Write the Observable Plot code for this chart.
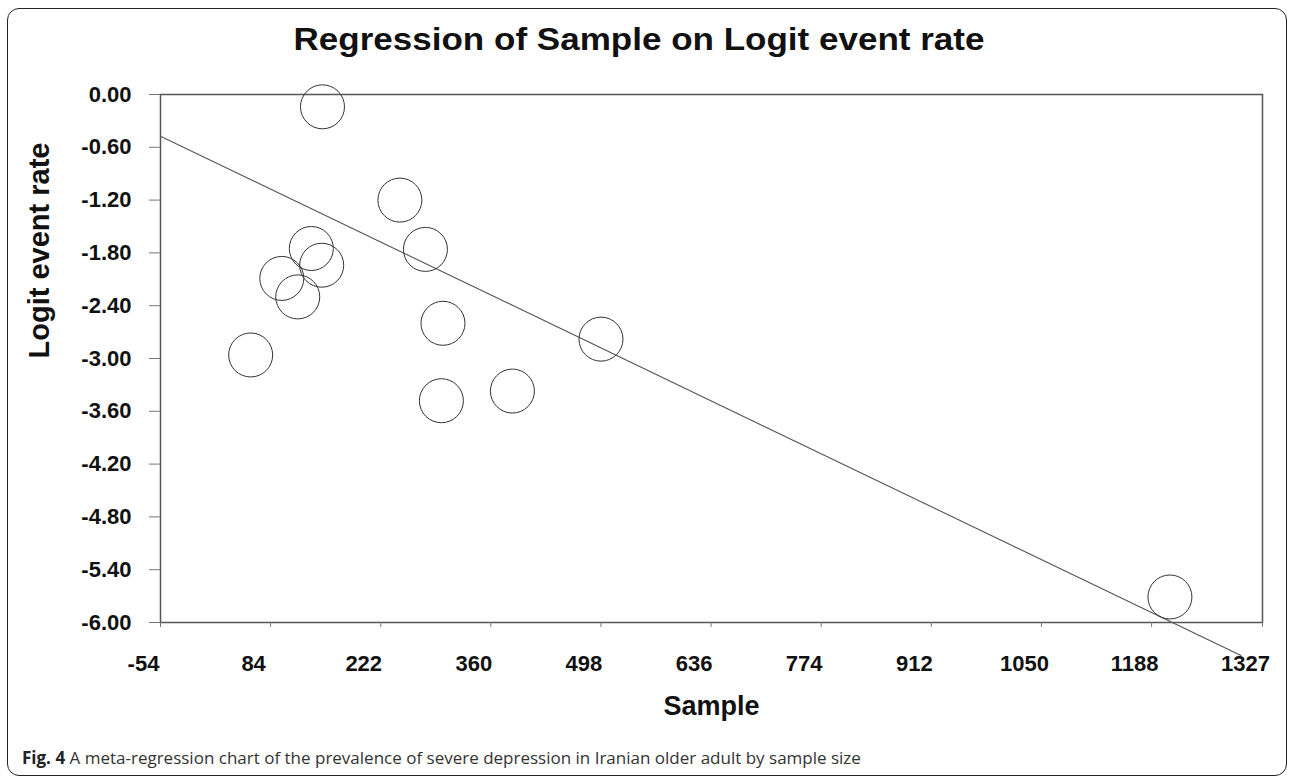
<!DOCTYPE html>
<html>
<head>
<meta charset="utf-8">
<script src="https://cdn.jsdelivr.net/npm/d3@7"></script>
<script src="https://cdn.jsdelivr.net/npm/@observablehq/plot@0.6"></script>
<style>
  html, body { margin: 0; padding: 0; background: #fff; }
  #wrap { position: relative; width: 1292px; height: 780px; overflow: hidden; background: #fff; }
  #frame { position: absolute; left: 7px; top: 8px; width: 1280px; height: 768px; border: 1.5px solid #222; border-radius: 12px; box-sizing: border-box; }
  #title { position: absolute; left: 0; top: 24px; width: 1278px; text-align: center; font: bold 31px/31px "Liberation Sans", Arial, sans-serif; color: #111; transform: scaleX(1.13); transform-origin: 639px 0; }
  #caption { position: absolute; left: 22px; top: 749px; font: 17px/17px "Open Sans", sans-serif; color: #333; white-space: nowrap; }
  #caption b { color: #222; }
  #chart { position: absolute; left: 0; top: 0; }
</style>
</head>
<body>
<div id="wrap">
  <div id="frame"></div>
  <div id="chart"></div>
  <div id="title">Regression of Sample on Logit event rate</div>
  <div id="caption"><b>Fig. 4</b> A meta-regression chart of the prevalence of severe depression in Iranian older adult by sample size</div>
</div>
<script>
// Study points (sample size vs logit event rate)
const sampleSize = [149, 246, 278, 135, 148, 98, 118, 59, 300, 298, 387, 498, 1211];
const logitRate  = [-0.14, -1.20, -1.76, -1.75, -1.94, -2.09, -2.30, -2.96, -2.60, -3.48, -3.37, -2.78, -5.71];

// Regression line end points
const lineX = [-54, 1300];
const lineY = [-0.474, -6.375];

// Axis ticks
const xTicks = [-54, 84, 222, 360, 498, 636, 774, 912, 1050, 1188, 1327];
const yTicks = [0, -0.6, -1.2, -1.8, -2.4, -3.0, -3.6, -4.2, -4.8, -5.4, -6.0];

const points = sampleSize.map((s, i) => ({sample: s, logit: logitRate[i]}));
const regLine = lineX.map((x, i) => ({sample: x, logit: lineY[i]}));

const font = '"Liberation Sans", Arial, sans-serif';

const chart = Plot.plot({
  width: 1292,
  height: 780,
  marginLeft: 160,
  marginRight: 30,
  marginTop: 94,
  marginBottom: 158,
  style: {fontFamily: font, color: "#111", background: "transparent", overflow: "visible"},
  x: {domain: [-54, 1327]},
  y: {domain: [-6, 0]},
  marks: [
    Plot.frame({stroke: "#555", strokeWidth: 1.5}),
    Plot.axisX({
      ticks: xTicks, tickSize: 5, tickFormat: () => "",
      stroke: "#777", label: null
    }),
    Plot.text(xTicks, {
      x: d => d, text: d => String(d), frameAnchor: "bottom", lineAnchor: "top",
      dy: 33, dx: -17, fontSize: 22, fontWeight: "bold", fill: "#111"
    }),
    Plot.axisY({
      ticks: yTicks, tickSize: 11, tickPadding: 18, tickFormat: d => d.toFixed(2),
      stroke: "#777", fontSize: 22, fontWeight: "bold", label: null
    }),
    Plot.line(regLine, {x: "sample", y: "logit", stroke: "#555", strokeWidth: 1.1}),
    Plot.dot(points, {x: "sample", y: "logit", r: 22, stroke: "#333", strokeWidth: 1, fill: "none"}),
    Plot.text(["Sample"], {frameAnchor: "bottom", dy: 92, fontSize: 27, fontWeight: "bold", fill: "#111"}),
    Plot.text(["Logit event rate"], {frameAnchor: "left", rotate: -90, dx: -121, fontSize: 29, fontWeight: "bold", fill: "#111"})
  ]
});
document.getElementById("chart").appendChild(chart);
</script>
</body>
</html>
